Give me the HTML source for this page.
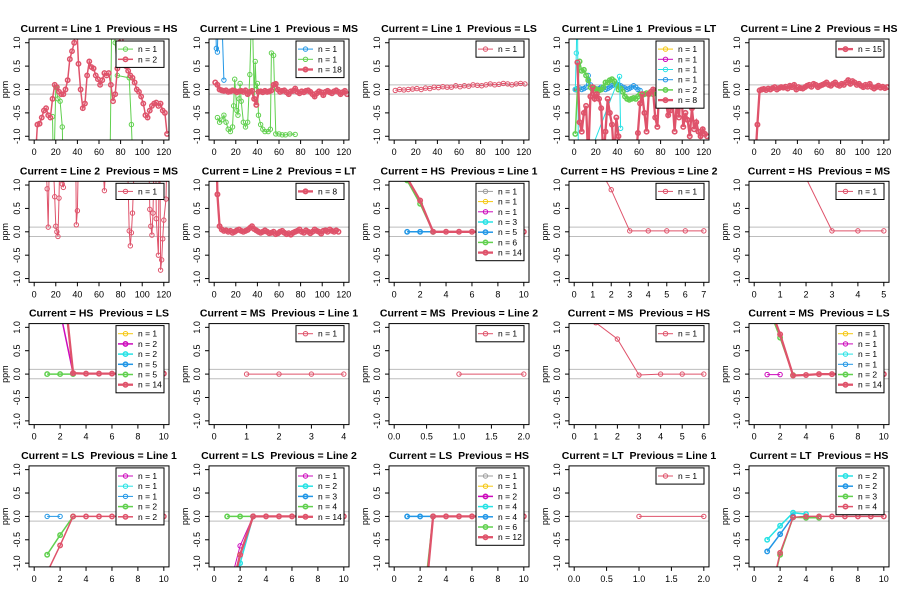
<!DOCTYPE html>
<html><head><meta charset="utf-8"><style>
html,body{margin:0;padding:0;background:#fff;overflow:hidden;width:900px;height:600px;}
svg{display:block;font-family:"Liberation Sans",sans-serif;}
text{white-space:pre;}
</style></head><body>
<svg id="fig" width="900" height="600" viewBox="0 0 900 600" xmlns="http://www.w3.org/2000/svg"></svg>
<script>
// ---- data ----
var yTicks = [-1.0, -0.5, 0.0, 0.5, 1.0];
var yTickLabels = ["-1.0", "-0.5", "0.0", "0.5", "1.0"];
var titles = [
 "Current = Line 1  Previous = HS","Current = Line 1  Previous = MS","Current = Line 1  Previous = LS","Current = Line 1  Previous = LT","Current = Line 2  Previous = HS",
 "Current = Line 2  Previous = MS","Current = Line 2  Previous = LT","Current = HS  Previous = Line 1","Current = HS  Previous = Line 2","Current = HS  Previous = MS",
 "Current = HS  Previous = LS","Current = MS  Previous = Line 1","Current = MS  Previous = Line 2","Current = MS  Previous = HS","Current = MS  Previous = LS",
 "Current = LS  Previous = Line 1","Current = LS  Previous = Line 2","Current = LS  Previous = HS","Current = LT  Previous = Line 1","Current = LT  Previous = HS"];
var xMaxes = [120,120,120,120,120, 120,120,10,7,5, 10,4,2,6,10, 10,10,10,2,10];
var xTickSets = {
 "120":[0,20,40,60,80,100,120], "10":[0,2,4,6,8,10], "7":[0,1,2,3,4,5,6,7],
 "5":[0,1,2,3,4,5], "4":[0,1,2,3,4], "2":[0.0,0.5,1.0,1.5,2.0], "6":[0,1,2,3,4,5,6]};

// panel 1 (Line1 / HS)
var p1RedY = [-1.5,-0.75,-0.73,-0.6,-0.45,-0.4,-0.55,-0.6,-0.2,0.1,0.05,-0.05,-0.1,-0.1,0.0,0.2,0.65,0.82,1.0,1.6,0.55,0.0,-0.4,-0.3,0.3,0.6,0.48,0.45,0.3,0.22,0.1,0.2,0.35,0.3,0.35,0.1,-0.25,-0.1,0.45,1.0,1.4,0.8,0.5,0.4,0.3,0.25,0.15,0.0,-0.05,-0.15,-0.3,-0.55,-0.6,-0.45,-0.35,-0.3,-0.28,-0.35,-0.3,-0.45,-0.5,-0.95];
var p1GreenX = [17,18,20,22,24,26,27,70,72,75,77,88,90,92];
var p1GreenY = [-0.58,-2,0.05,-0.2,-0.25,-0.8,-2,-2,2,1.0,0.3,0.25,-0.75,-2];
// panel 2 (Line1 / MS)
var p2RedY = [0.15,0.1,0.0,-0.02,-0.03,-0.02,-0.05,-0.04,-0.02,-0.03,-0.06,-0.04,-0.03,-0.05,-0.02,-0.1,-0.05,-0.03,-0.2,-0.33,-0.05,-0.04,-0.06,-0.03,-0.05,-0.04,-0.02,0.1,0.12,0.0,-0.05,-0.03,-0.02,-0.06,-0.1,-0.04,-0.03,0.02,-0.05,-0.08,-0.04,-0.06,-0.03,-0.02,-0.05,-0.1,-0.15,-0.08,-0.04,-0.06,-0.12,-0.05,-0.03,-0.06,-0.08,-0.04,-0.02,-0.05,-0.1,-0.06,-0.03,-0.1];
var p2GreenX = [3,5,7,9,11,13,15,17,18,19,21,22,23,24,25,27,29,31,33,35,37,38,39,40,41,43,45,47,50,52,53,55,57,60,63,66,70,75];
var p2GreenY = [-0.6,-0.7,-0.65,-0.55,-0.7,-0.85,-0.9,-0.8,-0.35,0.22,-0.45,-0.55,-0.2,0.13,-0.25,-0.7,-0.8,-0.7,0.32,2,-0.2,0.6,0.0,0.13,-0.55,-0.75,-0.85,-0.9,-0.9,-0.85,0.78,0.73,-0.95,-0.95,-0.97,-0.97,-0.95,-0.96];
var p2BlueX = [1,2,3,5,9];
var p2BlueY = [2,0.88,0.8,3,0.2];
// panel 3 (Line1 / LS)
var p3RedY = [-0.02,0,-0.01,0,0.01,0.02,0,0.03,0.02,0.05,0.04,0.06,0.05,0.05,0.08,0.06,0.08,0.07,0.1,0.09,0.08,0.1,0.12,0.1,0.11,0.13,0.12,0.1,0.12,0.13,0.12];
// panel 4 (Line1 / LT)
var p4RedY = [0.58,-0.7,-0.9,-0.5,-0.35,-1.5,-0.15,0.05,-0.2,-0.1,-0.2,-0.4,-1.5,-0.9,-0.2,-0.5,-0.75,-1.5,-0.6,-1.0,-1.5,-1.5,-1.5,-1.5,-1.5,-1.5,-1.5,-1.5,-0.93,-0.3,-0.1,-0.5,-0.9,-0.1,-0.05,0.0,-0.6,-0.8,0.15,0.1,-0.1,-0.3,-0.55,-0.45,-0.2,-0.9,-0.3,-0.6,0.05,-0.8,-0.5,-0.65,-1.0,-0.4,-0.85,-0.7,-0.9,-1.0,-0.85,-0.95,-1.0];
var p4GreenY = [-0.95,0.0,0.6,0.4,0.42,0.3,0.2,0.05,0.0,0.02,0.0,-0.02,0.0,0.05,0.15,0.15,0.2,0.22,0.18,0.1,0.0,0.02,-0.05,-0.15,-0.2,-0.22,-0.2,-0.18,-0.2,-0.15,-0.1,-0.12,-0.1,-0.08,-0.1,-0.05,-0.1,-0.05];
var p4BlueY = [0.0,0.02,0.03,0.0,0.02,0.05,0.3,0.1,0.05,0.03,0.0,0.02,0.05,0.03,0.0,0.02,0.05,0.08,0.1,0.12,0.1,0.08,0.05,0.03,0.0,0.02,0.05,0.08,0.05,0.0,-0.02];
var p4CyanX = [1,2,3,4,42,43];
var p4CyanY = [0,0.78,2,-2,0.28,-0.83];
var p4SmallX = [1,2,3];
var p4SmallY = [0,0,0];
// panel 5 (Line2 / HS)
var p5RedY = [-1.5,-0.75,-0.02,0.0,0.01,-0.01,0.02,0.0,0.03,0.05,0.0,0.03,0.05,0.04,0.06,0.02,0.08,0.05,0.1,0.0,0.05,0.03,0.02,0.05,0.08,0.1,0.06,0.12,0.1,0.05,0.08,0.1,0.12,0.15,0.1,0.08,0.12,0.15,0.1,0.08,0.12,0.1,0.15,0.2,0.12,0.18,0.15,0.1,0.12,0.08,0.05,0.1,0.06,0.12,0.05,0.02,0.05,0.08,0.04,0.06,0.03,0.05];
// panel 6 (Line2 / MS)
var p6RedX = [8,12,13,15,19,20,21,22,23,25,26,27,33,38,39,40,42,60,65,70,85,88,89,90,91,95,105,107,108,109,110,112,113,115,116,117,118,119,120,122,124];
var p6RedY = [3,0.92,0.1,3,0.75,0.12,0.0,-0.1,0.72,3,1.02,0.95,3,3,0.15,0.45,3,3,0.88,3,3,0.02,-0.3,-0.02,0.4,3,3,0.48,0.12,-0.07,0.4,3,0.28,-0.5,3,-0.82,-0.6,-0.15,0.25,0.7,3];
// panel 7 (Line2 / LT)
var p7RedY = [3,0.8,0.12,0.05,0.02,0.03,0.0,0.02,-0.02,0.0,0.03,0.05,0.02,0.0,0.02,0.04,0.08,0.12,0.06,0.03,0.0,-0.02,0.0,0.03,0.0,-0.03,-0.02,0.0,-0.05,-0.03,0.0,0.02,-0.02,-0.05,-0.03,-0.06,-0.02,0.0,0.02,0.05,0.0,-0.02,0.03,0.0,-0.03,0.0,0.05,0.02,0.0,-0.04,0.02,0.03,0.0,0.05,0.02,0.0,0.03,0.0];
// small panels (x = 1, 2, 3, ...)
var p8Red = [1.15,0.67,0.0,0.0,0.0,0.0,0.0,0.0,0.0,0.0];
var p8Green = [1.1,0.6,0.0];
var p8Blue = [0.0,0.0,0.0];
var p9Red = [1.6,0.9,0.02,0.02,0.02,0.02,0.02];
var p10Red = [3,1.15,0.02,0.02,0.02];
var p11Red = [3,2.67,0.02,0.01,0.01,0.01,0.01,0.01,0.01,0.01];
var p11Magenta = [2,1.35,0.02];
var p11Green = [0.0,0.0,0.0];
var p12Red = [0.0,0.0,0.0,0.0];
var p13Red = [0.0,0.0];
var p14Red = [1.1,0.75,-0.02,0.0,0.0,0.0];
var p15Red = [1.6,0.85,-0.03,-0.02,0.0,0.0,0.0,0.0,0.0,0.0];
var p15Green = [1.5,0.78,-0.02];
var p15Magenta = [-0.01,-0.01];
var p16Red = [-1.2,-0.62,0.0,0.0,0.0,0.0,0.0,0.0,0.0,0.0];
var p16Green = [-0.82,-0.4,0.0];
var p16Blue = [0.0,0.0];
var p17Red = [-2,-0.82,0.0,0.0,0.0,0.0,0.0,0.0,0.0,0.0];
var p17Magenta = [-1.7,-0.63,0.0];
var p17Cyan = [-2,-1.0,0.0];
var p17Green = [0.0,0.0,0.0];
var p18Red = [-4,-3,0.0,0.0,0.0,0.0,0.0,0.0,0.0,0.0];
var p18Green = [-4,-2.5,0.0];
var p18Blue = [0.0,0.0,0.0];
var p19Red = [0.0,0.0];
var p20Red = [-2,-0.78,-0.02,0.0,0.0,0.0,0.0,0.0,0.0,0.0];
var p20Green = [-2,-0.82,-0.02,-0.03,-0.03];
var p20Blue = [-0.75,-0.38,0.0];
var p20Cyan = [-0.5,-0.2,0.08,0.05];

var C = {gray:"#9E9E9E",yellow:"#F5C710",magenta:"#CD0BBC",cyan:"#28E2E5",blue:"#2297E6",green:"#61D04F",red:"#DF536B"};
function seq(start, step, len){ var a=[]; for(var i=0;i<len;i++) a.push(start+i*step); return a; }
function idx(arr){ return seq(1,1,arr.length); }

var legends = [
 [["green",1],["red",2]], [["blue",1],["green",1],["red",18]], [["red",1]],
 [["yellow",1],["magenta",1],["cyan",1],["blue",1],["green",2],["red",8]], [["red",15]],
 [["red",1]], [["red",8]],
 [["gray",1],["yellow",1],["magenta",1],["cyan",3],["blue",5],["green",6],["red",14]],
 [["red",1]], [["red",1]],
 [["yellow",1],["magenta",2],["cyan",2],["blue",5],["green",5],["red",14]],
 [["red",1]], [["red",1]], [["red",1]],
 [["yellow",1],["magenta",1],["cyan",1],["blue",1],["green",2],["red",14]],
 [["magenta",1],["cyan",1],["blue",1],["green",2],["red",2]],
 [["magenta",1],["cyan",2],["blue",3],["green",4],["red",14]],
 [["gray",1],["yellow",1],["magenta",2],["cyan",4],["blue",4],["green",6],["red",12]],
 [["red",1]],
 [["cyan",2],["blue",2],["green",3],["red",4]]
];
var series = [
 [["green",1,p1GreenX,p1GreenY],["red",2,seq(1,2,p1RedY.length),p1RedY]],
 [["blue",1,p2BlueX,p2BlueY],["green",1,p2GreenX,p2GreenY],["red",18,seq(1,2,p2RedY.length),p2RedY]],
 [["red",1,seq(1,4,p3RedY.length),p3RedY]],
 [["yellow",1,p4SmallX,p4SmallY],["magenta",1,p4SmallX,p4SmallY],["blue",1,seq(1,2,p4BlueY.length),p4BlueY],["green",2,seq(1,2,p4GreenY.length),p4GreenY],["cyan",1,p4CyanX,p4CyanY],["red",8,seq(3,2,p4RedY.length),p4RedY]],
 [["red",15,seq(1,2,p5RedY.length),p5RedY]],
 [["red",1,p6RedX,p6RedY]],
 [["red",8,seq(1,2,p7RedY.length),p7RedY]],
 [["blue",5,idx(p8Blue),p8Blue],["green",6,idx(p8Green),p8Green],["red",14,idx(p8Red),p8Red]],
 [["red",1,idx(p9Red),p9Red]],
 [["red",1,idx(p10Red),p10Red]],
 [["green",5,idx(p11Green),p11Green],["magenta",2,idx(p11Magenta),p11Magenta],["red",14,idx(p11Red),p11Red]],
 [["red",1,idx(p12Red),p12Red]],
 [["red",1,idx(p13Red),p13Red]],
 [["red",1,idx(p14Red),p14Red]],
 [["magenta",1,idx(p15Magenta),p15Magenta],["green",2,idx(p15Green),p15Green],["red",14,idx(p15Red),p15Red]],
 [["blue",1,idx(p16Blue),p16Blue],["green",2,idx(p16Green),p16Green],["red",2,idx(p16Red),p16Red]],
 [["green",4,idx(p17Green),p17Green],["magenta",1,idx(p17Magenta),p17Magenta],["cyan",2,idx(p17Cyan),p17Cyan],["red",14,idx(p17Red),p17Red]],
 [["blue",4,idx(p18Blue),p18Blue],["green",6,idx(p18Green),p18Green],["red",12,idx(p18Red),p18Red]],
 [["red",1,idx(p19Red),p19Red]],
 [["cyan",2,idx(p20Cyan),p20Cyan],["blue",2,idx(p20Blue),p20Blue],["green",3,idx(p20Green),p20Green],["red",4,idx(p20Red),p20Red]]
];

var NS="http://www.w3.org/2000/svg";
var svg=document.getElementById('fig');
function mk(tag, attrs, parent){ var e=document.createElementNS(NS,tag); for(var k in attrs) e.setAttribute(k,attrs[k]); (parent||svg).appendChild(e); return e; }
function lw(n){ return n==1?1:(n<8?1.5:2.3); }

for (var p=0;p<20;p++){
  var col=p%5, row=Math.floor(p/5);
  var L=29+180*col, R=169+180*col, T=39+142.3*row, B=140+142.3*row;
  var xmax=xMaxes[p], xlo=-0.04*xmax, xhi=xmax*1.04;
  var ylo=-1.08, yhi=1.08;
  var sx=(function(L,R,xlo,xhi){return function(v){return L+(v-xlo)/(xhi-xlo)*(R-L);};})(L,R,xlo,xhi);
  var sy=(function(T,B){return function(v){return B-(v-ylo)/(yhi-ylo)*(B-T);};})(T,B);
  var g=mk('g',{});
  
  
  var t=mk('text',{x:(L+R)/2,y:T-7,'text-anchor':'middle','font-size':'10.5','font-weight':'bold'},g);
  t.textContent=titles[p].replace('  ','\u00a0 ');
  
  
  var cp=mk('clipPath',{id:'cp'+p},g);
  mk('rect',{x:L,y:T,width:R-L,height:B-T},cp);
  [0.1,-0.1].forEach(function(v){
    var ln=mk('line',{x1:L,x2:R,y1:sy(v),y2:sy(v),stroke:'#bdbdbd','stroke-width':1},g);
    
    
  });
  var sg=mk('g',{'clip-path':'url(#cp'+p+')'},g);
  series[p].forEach(function(s){
    var col=C[s[0]], w=lw(s[1]), xs=s[2], ys=s[3], d='';
    for(var i=0;i<ys.length;i++) d+=(i?'L':'M')+sx(xs[i]).toFixed(1)+','+sy(ys[i]).toFixed(1);
    var pl=mk('path',{d:d,fill:'none',stroke:col,'stroke-width':w},sg);
    
    
    for(var j=0;j<ys.length;j++){
      var c=mk('circle',{cx:sx(xs[j]),cy:sy(ys[j]),r:2.2,fill:'none',stroke:col,'stroke-width':Math.min(w,1.6)},sg);
      
      
    }
  });
  var box=mk('rect',{x:L,y:T,width:R-L,height:B-T,fill:'none',stroke:'#000','stroke-width':1},g);
  
  
  var xt=xTickSets[String(xmax)];
  xt.forEach(function(v){
    var x=sx(v);
    mk('line',{x1:x,x2:x,y1:B,y2:B+4,stroke:'#000'},g);
    var tl=mk('text',{x:x,y:B+15,'text-anchor':'middle','font-size':'9'},g);
    tl.textContent=(xmax==2)?v.toFixed(1):String(v);
    
    
  });
  yTicks.forEach(function(v,i){
    var y=sy(v);
    mk('line',{x1:L-4,x2:L,y1:y,y2:y,stroke:'#000'},g);
    var tl=mk('text',{x:L-9,y:y,'text-anchor':'middle','font-size':'9',transform:'rotate(-90 '+(L-9)+' '+y+')'},g);
    tl.textContent=yTickLabels[i];
    
    
  });
  var yl=mk('text',{x:L-21,y:(T+B)/2,'text-anchor':'middle','font-size':'9',transform:'rotate(-90 '+(L-21)+' '+((T+B)/2)+')'},g);
  yl.textContent='ppm';
  
  
  var ents=legends[p], lwid=48, lh=10.2, lx=R-5-lwid, ly=T+2, lhgt=ents.length*lh+6;
  var lg=mk('g',{},g);
  
  
  mk('rect',{x:lx,y:ly,width:lwid,height:lhgt,fill:'#fff',stroke:'#000','stroke-width':1},lg);
  ents.forEach(function(e,i){
    var yy=ly+3+lh*(i+0.5), cc=C[e[0]], w=lw(e[1]);
    var en=mk('g',{},lg);
    
    
    mk('line',{x1:lx+2,x2:lx+17,y1:yy,y2:yy,stroke:cc,'stroke-width':w},en);
    mk('circle',{cx:lx+9.5,cy:yy,r:2.2,fill:'none',stroke:cc,'stroke-width':Math.min(w,1.6)},en);
    var tx=mk('text',{x:lx+22,y:yy+3,'font-size':'8.5'},en);
    tx.textContent='n = '+e[1];
  });
}
</script>
</body></html>
